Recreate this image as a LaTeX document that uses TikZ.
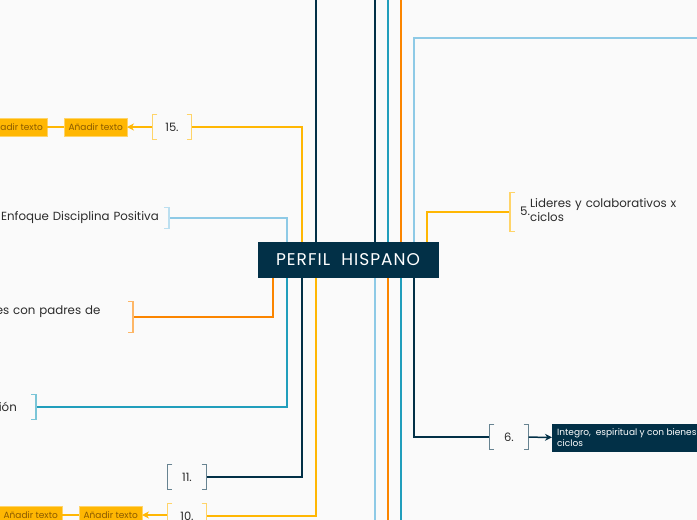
\documentclass[tikz,border=0pt]{standalone}
\usepackage{fontspec}
\setmainfont{Poppins}
\usetikzlibrary{positioning,backgrounds,arrows.meta}

\definecolor{cnavy}{HTML}{023047}
\definecolor{cteal}{HTML}{219EBC}
\definecolor{clblue}{HTML}{8ECAE6}
\definecolor{cyellow}{HTML}{FFB703}
\definecolor{corange}{HTML}{FB8500}
\definecolor{ctext}{HTML}{2B2B2B}
\definecolor{cbrown}{HTML}{8A5A00}

\tikzset{
  hub/.style={fill=cnavy, text=white, minimum width=181, minimum height=36, inner sep=0,
    font=\fontsize{17}{17}\selectfont\addfontfeatures{LetterSpace=6}},
  numbox/.style={minimum width=39, minimum height=24, inner sep=2, text=ctext,
    font=\fontsize{11.5}{13}\selectfont},
  txt/.style={inner sep=4, text=ctext, font=\fontsize{11.8}{14}\selectfont},
  addbox/.style={fill=cyellow, draw=cyellow!60, text=cbrown, minimum height=18, inner xsep=4,
    font=\fontsize{9}{10}\selectfont},
  darkbox/.style={fill=cnavy, text=white, minimum height=28, inner xsep=5, align=left,
    font=\fontsize{9}{11}\selectfont},
  branch/.style={line width=2}
}

\begin{document}
\begin{tikzpicture}[x=1pt, y=-1pt, >={Stealth[length=7pt,width=7pt]}]
  \useasboundingbox (0,0) rectangle (697,520);
  \clip (0,0) rectangle (697,520);

  \node[hub] (hub) at (348,260) {PERFIL~~HISPANO};

  % left side
  \node[numbox] (n15) at (172,127) {15.};
  \node[addbox, anchor=east] (add15a) at (127,127) {Añadir texto};
  \node[addbox, anchor=east] (add15b) at (47,127) {Añadir texto};
  \node[txt, anchor=east, inner xsep=10, text width=175, align=right] (enf) at (169,218) {Enfoque Disciplina Positiva};
  \node[txt, anchor=east, text width=133, align=left] (padres) at (133,317) {es con padres de\\\mbox{}};
  \node[txt, anchor=east, minimum height=24, text width=33, align=left] (ion) at (36,407) {ión};
  \node[numbox] (n11) at (187,477) {11.};
  \node[numbox] (n10) at (187,516) {10.};
  \node[addbox, anchor=east] (add10a) at (142,515) {Añadir texto};
  \node[addbox, anchor=east] (add10b) at (62,515) {Añadir texto};

  % right side
  \node[txt, anchor=west, minimum height=39, text width=200, align=left, inner xsep=10] (n5) at (510,212)
    {5.\begin{tabular}{@{}l@{}}Lideres y colaborativos x\\ciclos\end{tabular}};
  \node[numbox] (n6) at (509,437) {6.};
  \node[darkbox, anchor=west] (inte) at (552,438) {Integro,~ espiritual y con bienes\\ciclos};

  \coordinate (topA) at (316,0);
  \coordinate (topB) at (375,0);
  \coordinate (topC) at (388,0);
  \coordinate (topD) at (401,0);
  \coordinate (edgeR) at (697,38);
  \coordinate (botA) at (375,520);
  \coordinate (botB) at (388,520);
  \coordinate (botC) at (401,520);

  \begin{scope}[on background layer]
    \fill[white!98!black] (0,0) rectangle (697,520);
    \draw[branch, clblue] ([xshift=-61]hub.center) |- (enf.east);
    \draw[branch, cyellow] ([xshift=-46]hub.center) |- (n15.east);
    \draw[branch, cnavy] ([xshift=-32]hub.center) -- (topA);
    \draw[branch, corange] ([xshift=-75]hub.center) |- (padres.east);
    \draw[branch, cteal] ([xshift=-61]hub.center) |- (ion.east);
    \draw[branch, cnavy] ([xshift=-46]hub.center) |- (n11.east);
    \draw[branch, cyellow] ([xshift=-32]hub.center) |- (n10.east);
    \draw[branch, cnavy] ([xshift=27]hub.center) -- (topB);
    \draw[branch, cteal] ([xshift=40]hub.center) -- (topC);
    \draw[branch, corange] ([xshift=53]hub.center) -- (topD);
    \draw[branch, clblue] ([xshift=66]hub.center) |- (edgeR);
    \draw[branch, cyellow] ([xshift=79]hub.center) |- (n5.west);
    \draw[branch, clblue] ([xshift=27]hub.center) -- (botA);
    \draw[branch, corange] ([xshift=40]hub.center) -- (botB);
    \draw[branch, cteal] ([xshift=53]hub.center) -- (botC);
    \draw[branch, cnavy] ([xshift=66]hub.center) |- (n6.west);
  \end{scope}

  \foreach \n/\c in {n15/cyellow, enf/clblue, padres/corange, ion/cteal, n11/cnavy, n10/cyellow, n5/cyellow, n6/cnavy}
    \draw[color=\c!60, line width=1.2] ([xshift=5]\n.north west) -- (\n.north west) -- (\n.south west) -- ++(5,0)
      ([xshift=-5]\n.north east) -- (\n.north east) -- (\n.south east) -- ++(-5,0);

  \draw[->, line width=1.5, cyellow] (n15) -- (add15a);
  \draw[line width=1.5, cyellow] (add15a) -- (add15b);
  \draw[->, line width=1.5, cyellow] (n10.west |- add10a) -- (add10a);
  \draw[line width=1.5, cyellow] (add10a) -- (add10b);
  \draw[->, line width=1.5, cnavy] (n6) -- (inte);
\end{tikzpicture}
\end{document}
